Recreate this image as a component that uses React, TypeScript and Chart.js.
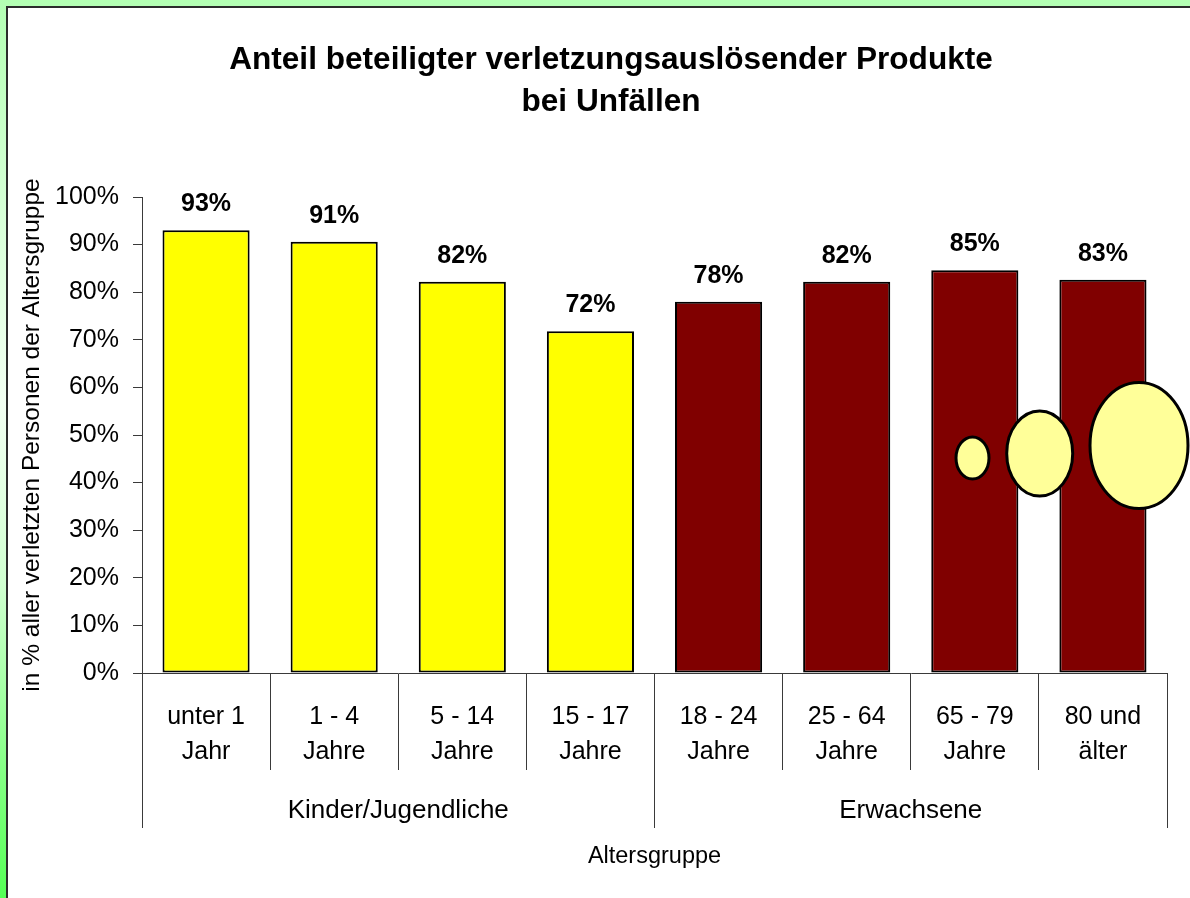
import React, { useEffect, useRef } from 'react';
import { Chart, registerables } from 'chart.js';

Chart.register(...registerables);

const FONT = '"Liberation Sans", Arial, sans-serif';

const TITLE_LINES = ['Anteil beteiligter verletzungsauslösender Produkte', 'bei Unfällen'];
const Y_TITLE = 'in % aller verletzten Personen der Altersgruppe';
const X_TITLE = 'Altersgruppe';

const CATEGORIES: string[][] = [
  ['unter 1', 'Jahr'],
  ['1 - 4', 'Jahre'],
  ['5 - 14', 'Jahre'],
  ['15 - 17', 'Jahre'],
  ['18 - 24', 'Jahre'],
  ['25 - 64', 'Jahre'],
  ['65 - 79', 'Jahre'],
  ['80 und', 'älter'],
];
const GROUPS = ['Kinder/Jugendliche', 'Erwachsene'];
const VALUES = [93.0, 90.6, 82.2, 71.8, 78.0, 82.2, 84.6, 82.6];
const BAR_COLORS = ['#FFFF00', '#FFFF00', '#FFFF00', '#FFFF00', '#800000', '#800000', '#800000', '#800000'];
const Y_MIN = 0;
const Y_MAX = 100;
const Y_STEP = 10;

// decorative ellipses (canvas pixels)
const DECOR = [
  { cx: 964.5, cy: 450, rx: 16.5, ry: 21 },
  { cx: 1031.7, cy: 445.5, rx: 33, ry: 42.5 },
  { cx: 1131, cy: 437.5, rx: 49, ry: 63 },
];

const AXIS_COLOR = '#3a3a3a';

export default function App() {
  const ref = useRef<HTMLCanvasElement | null>(null);

  useEffect(() => {
    document.body.style.margin = '0';
    if (!ref.current) return;

    const titlePlugin = {
      id: 'centeredTitle',
      afterDraw(chart: any) {
        const ctx = chart.ctx;
        ctx.save();
        ctx.font = `bold 31.6px ${FONT}`;
        ctx.fillStyle = '#000';
        ctx.textAlign = 'center';
        ctx.textBaseline = 'middle';
        const cx = chart.width / 2;
        TITLE_LINES.forEach((line, i) => {
          ctx.fillText(line, cx, 52 + i * 42);
        });
        ctx.restore();
      },
    };

    const labelsPlugin = {
      id: 'valueLabels',
      afterDatasetsDraw(chart: any) {
        const ctx = chart.ctx;
        const meta = chart.getDatasetMeta(0);
        ctx.save();
        ctx.font = `bold 25px ${FONT}`;
        ctx.fillStyle = '#000';
        ctx.textAlign = 'center';
        ctx.textBaseline = 'alphabetic';
        meta.data.forEach((bar: any, i: number) => {
          ctx.fillText(Math.round(VALUES[i]) + '%', bar.x, bar.y - 19);
        });
        ctx.restore();
      },
    };

    const decorPlugin = {
      id: 'decor',
      afterDraw(chart: any) {
        const ctx = chart.ctx;
        ctx.save();
        DECOR.forEach((d) => {
          ctx.beginPath();
          ctx.ellipse(d.cx, d.cy, d.rx, d.ry, 0, 0, Math.PI * 2);
          ctx.fillStyle = '#FFFF99';
          ctx.fill();
          ctx.lineWidth = 3;
          ctx.strokeStyle = '#000';
          ctx.stroke();
        });
        ctx.restore();
      },
    };

    const chart = new Chart(ref.current, {
      type: 'bar',
      data: {
        labels: CATEGORIES,
        datasets: [
          {
            data: VALUES,
            backgroundColor: BAR_COLORS,
            borderColor: '#000',
            borderWidth: 2,
            borderSkipped: false,
            barPercentage: 0.68,
            categoryPercentage: 1,
            xAxisID: 'x',
            yAxisID: 'y',
          },
        ],
      },
      options: {
        responsive: false,
        animation: false,
        layout: { padding: { top: 189, left: 0, right: 47, bottom: 20 } },
        plugins: {
          legend: { display: false },
          tooltip: { enabled: false },
          title: { display: false },
        },
        scales: {
          x: {
            type: 'category',
            position: 'bottom',
            offset: true,
            weight: 0,
            grid: {
              display: true,
              offset: true,
              drawOnChartArea: false,
              drawTicks: true,
              tickLength: 97,
              color: AXIS_COLOR,
              lineWidth: 1,
            },
            border: { display: true, color: AXIS_COLOR, width: 1 },
            ticks: {
              color: '#000',
              font: { family: FONT, size: 25, lineHeight: 35 / 25 },
              padding: -70,
              autoSkip: false,
              maxRotation: 0,
              minRotation: 0,
            },
            afterFit: (s: any) => {
              s.height = 97;
            },
          },
          x2: {
            type: 'category',
            position: 'bottom',
            labels: GROUPS,
            offset: true,
            weight: 1,
            grid: {
              display: true,
              offset: true,
              drawOnChartArea: false,
              drawTicks: true,
              tickLength: 58,
              color: AXIS_COLOR,
              lineWidth: 1,
            },
            border: { display: false },
            ticks: {
              color: '#000',
              font: { family: FONT, size: 26, lineHeight: 1.2 },
              padding: -33,
              autoSkip: false,
              maxRotation: 0,
              minRotation: 0,
            },
            title: {
              display: true,
              text: X_TITLE,
              color: '#000',
              font: { family: FONT, size: 23.5, lineHeight: 1.2 },
              padding: { top: 0, bottom: 7 },
            },
            afterFit: (s: any) => {
              s.height = 108;
            },
          },
          y: {
            min: Y_MIN,
            max: Y_MAX,
            position: 'left',
            grid: {
              display: true,
              drawOnChartArea: false,
              drawTicks: true,
              tickLength: 9,
              color: AXIS_COLOR,
              lineWidth: 1,
            },
            border: { display: true, color: AXIS_COLOR, width: 1 },
            ticks: {
              stepSize: Y_STEP,
              color: '#000',
              font: { family: FONT, size: 25 },
              padding: 14,
              callback: (v: any) => v + '%',
            },
            title: {
              display: true,
              text: Y_TITLE,
              color: '#000',
              font: { family: FONT, size: 24.5, lineHeight: 1.2 },
              padding: { top: 10, bottom: 0 },
            },
            afterFit: (s: any) => {
              s.width = 134;
            },
          },
        },
      },
      plugins: [labelsPlugin, decorPlugin, titlePlugin],
    } as any);

    return () => chart.destroy();
  }, []);

  return (
    <div
      style={{
        position: 'relative',
        width: 1190,
        height: 898,
        overflow: 'hidden',
        background:
          'linear-gradient(to bottom, #b3ffb3 0%, #d8ffd8 25%, #f2fff2 45%, #d0ffd0 65%, #88ff88 85%, #55ff55 100%)',
      }}
    >
      <div
        style={{
          position: 'absolute',
          left: 6,
          top: 6,
          width: 1300,
          height: 1000,
          background: '#fff',
          borderLeft: '2px solid #2b2b2b',
          borderTop: '2px solid #2b2b2b',
          boxSizing: 'border-box',
        }}
      />
      <canvas
        ref={ref}
        width={1206}
        height={890}
        style={{ position: 'absolute', left: 8, top: 8, width: 1206, height: 890 }}
      />
    </div>
  );
}
